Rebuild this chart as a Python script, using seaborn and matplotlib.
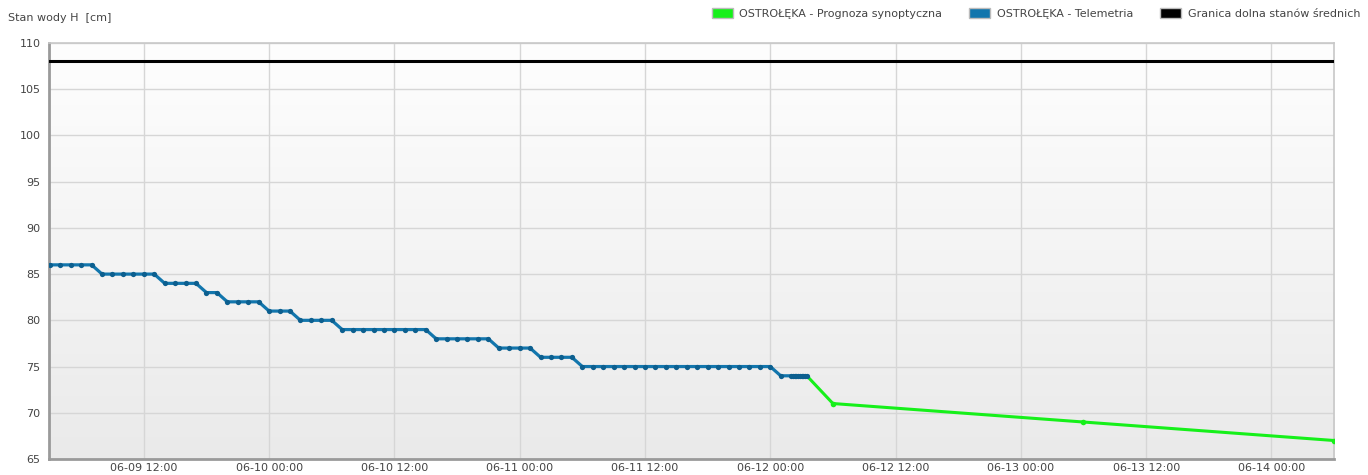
import matplotlib
matplotlib.use("Agg")
import matplotlib.pyplot as plt
import matplotlib.dates as mdates
from matplotlib.patches import Patch
import seaborn as sns
import pandas as pd
import numpy as np

# Telemetria: pomiary godzinowe 06-09 03:00 .. 06-12 02:00, potem co 10 minut
tele_hourly_times = pd.date_range("2024-06-09 03:00", "2024-06-12 02:00", freq="h")
tele_hourly_vals = (
    [86, 86, 86, 86, 86]
    + [85, 85, 85, 85, 85, 85]
    + [84, 84, 84, 84]
    + [83, 83]
    + [82, 82, 82, 82]
    + [81, 81, 81]
    + [80, 80, 80, 80]
    + [79, 79, 79, 79, 79, 79, 79, 79, 79]
    + [78, 78, 78, 78, 78, 78]
    + [77, 77, 77, 77]
    + [76, 76, 76, 76]
    + [75] * 19
    + [74, 74]
)
tele_dense_times = pd.to_datetime([
    "2024-06-12 02:10", "2024-06-12 02:20", "2024-06-12 02:30", "2024-06-12 02:40",
    "2024-06-12 02:50", "2024-06-12 03:00", "2024-06-12 03:10", "2024-06-12 03:20",
    "2024-06-12 03:30",
])
tele_dense_vals = [74, 74, 74, 74, 74, 74, 74, 74, 74]

# Prognoza synoptyczna
prog_times = pd.to_datetime(["2024-06-12 03:30", "2024-06-12 06:00",
                             "2024-06-13 06:00", "2024-06-14 06:00"])
prog_vals = [74, 71, 69, 67]

# Granica dolna stanów średnich
granica = 108

x_start = pd.Timestamp("2024-06-09 02:55")
x_end = pd.Timestamp("2024-06-14 06:00")

tele = pd.DataFrame({
    "czas": list(tele_hourly_times) + list(tele_dense_times),
    "H": tele_hourly_vals + tele_dense_vals,
})
prog = pd.DataFrame({"czas": prog_times, "H": prog_vals})

sns.set_theme(style="white")
plt.rcParams["font.family"] = ["DejaVu Sans"]

C_GREEN = "#16f01a"
C_BLUE = "#1276ad"
C_TEXT = "#444444"
FS = 8

fig = plt.figure(figsize=(13.68, 4.75), dpi=100)
ax = fig.add_axes([0.0358, 0.0337, 0.9394, 0.8758])

# gradient tla
grad = np.linspace(0, 1, 256).reshape(-1, 1)
ax.imshow(grad, extent=[0, 1, 0, 1], transform=ax.transAxes, aspect="auto",
          cmap=matplotlib.colors.LinearSegmentedColormap.from_list("bg", ["#fefefe", "#eaeaea"]),
          zorder=0, interpolation="bicubic")

ax.axhline(granica, color="#000000", lw=2.2, zorder=3)
sns.lineplot(data=tele, x="czas", y="H", ax=ax, color=C_BLUE, lw=2.3,
             marker="o", markersize=3.8, markeredgewidth=0,
             markerfacecolor="#0c5f8f", zorder=4)
sns.lineplot(data=prog.iloc[1:], x="czas", y="H", ax=ax, color=C_GREEN, lw=0,
             marker="o", markersize=4, markeredgewidth=0, zorder=4)
sns.lineplot(data=prog, x="czas", y="H", ax=ax, color=C_GREEN, lw=2.2, zorder=3)

ax.set_xlim(x_start, x_end)
ax.set_ylim(65, 110)
ax.set_yticks(range(65, 111, 5))
ax.xaxis.set_major_locator(mdates.HourLocator(byhour=[0, 12]))
ax.xaxis.set_major_formatter(mdates.DateFormatter("%m-%d %H:%M"))
ax.grid(True, color="#d6d6d6", lw=1, zorder=1)
ax.set_axisbelow(True)
ax.tick_params(axis="both", length=0, labelsize=FS, labelcolor=C_TEXT, pad=3)
ax.tick_params(axis="y", pad=6)
ax.set_xlabel("")
ax.set_ylabel("")

for side in ["left", "bottom"]:
    ax.spines[side].set_color("#9a9a9a")
    ax.spines[side].set_linewidth(2)
for side in ["top", "right"]:
    ax.spines[side].set_color("#c8c8c8")
    ax.spines[side].set_linewidth(1.2)

fig.text(0.006, 0.963, "Stan wody H  [cm]", fontsize=FS, color=C_TEXT, va="center")

handles = [
    Patch(facecolor=C_GREEN, edgecolor="#bbbbbb", label="OSTROŁĘKA - Prognoza synoptyczna"),
    Patch(facecolor=C_BLUE, edgecolor="#bbbbbb", label="OSTROŁĘKA - Telemetria"),
    Patch(facecolor="#000000", edgecolor="#bbbbbb", label="Granica dolna stanów średnich"),
]
leg = fig.legend(handles=handles, loc="upper right", bbox_to_anchor=(1.0, 1.0), ncol=3,
                 frameon=False, fontsize=FS, handlelength=1.9, handleheight=1.1,
                 handletextpad=0.6, columnspacing=2.4, borderaxespad=0.3)
for t in leg.get_texts():
    t.set_color(C_TEXT)

fig.savefig("out.png", dpi=100)
plt.close(fig)
